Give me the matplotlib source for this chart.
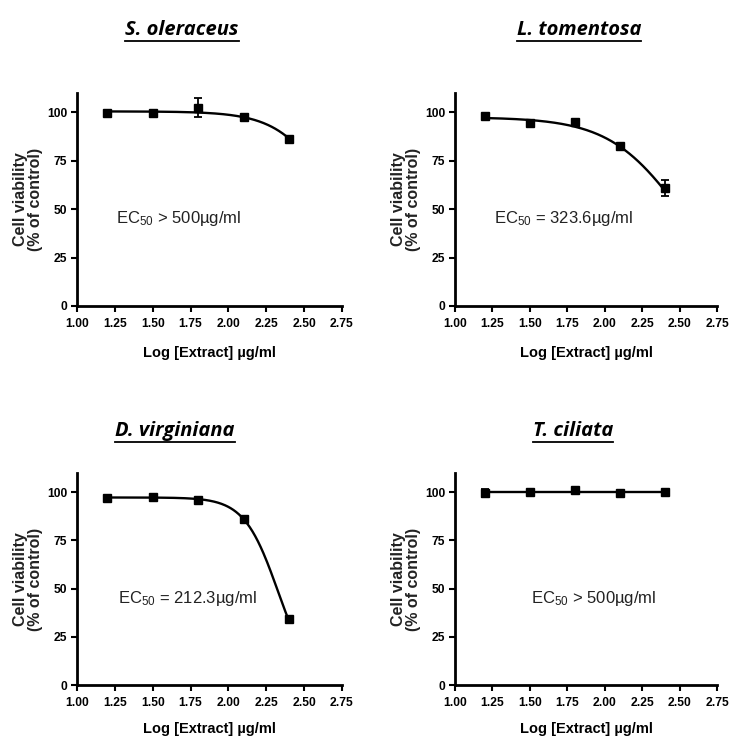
import numpy as np
import matplotlib
matplotlib.use("Agg")
import matplotlib.pyplot as plt
from matplotlib.lines import Line2D

plt.rcParams['font.family'] = ['Liberation Sans Narrow', 'Liberation Sans', 'DejaVu Sans']
plt.rcParams['mathtext.fontset'] = 'custom'
plt.rcParams['mathtext.rm'] = 'Liberation Sans'
plt.rcParams['mathtext.it'] = 'Liberation Sans:italic'
plt.rcParams['mathtext.bf'] = 'Liberation Sans:bold'

# ---- data ----
log_conc = [1.2, 1.5, 1.8, 2.1, 2.4]

species = ["S. oleraceus", "L. tomentosa", "D. virginiana", "T. ciliata"]

viab_oleraceus = [99.5, 99.5, 102.5, 97.5, 86.5]
err_oleraceus = [1.0, 1.0, 5.0, 1.0, 1.0]

viab_tomentosa = [98.0, 94.5, 95.0, 82.5, 61.0]
err_tomentosa = [1.0, 1.5, 1.0, 1.0, 4.0]

viab_virginiana = [97.0, 97.5, 96.0, 86.0, 34.0]
err_virginiana = [1.0, 1.0, 1.0, 1.0, 1.0]

viab_ciliata = [99.5, 100.0, 101.0, 99.5, 100.0]
err_ciliata = [2.0, 1.0, 1.0, 1.0, 1.0]

# fitted dose-response parameters: top, bottom, logEC50, hill
fit_oleraceus = (100.5, 0.0, 2.73, 2.4)
fit_tomentosa = (97.5, 0.0, np.log10(323.6), 1.8)
fit_virginiana = (97.3, 0.0, np.log10(212.3), 3.9)
fit_ciliata = (100.0, 0.0, 6.0, 3.0)

ec50_labels = [r"EC$_{50}$ > 500µg/ml", r"EC$_{50}$ = 323.6µg/ml",
               r"EC$_{50}$ = 212.3µg/ml", r"EC$_{50}$ > 500µg/ml"]
ec50_pos = [(1.26, 45), (1.26, 45), (1.27, 45), (1.51, 45)]

x_ticks = [1.00, 1.25, 1.50, 1.75, 2.00, 2.25, 2.50, 2.75]
y_ticks = [0, 25, 50, 75, 100]

viabs = [viab_oleraceus, viab_tomentosa, viab_virginiana, viab_ciliata]
errs = [err_oleraceus, err_tomentosa, err_virginiana, err_ciliata]
fits = [fit_oleraceus, fit_tomentosa, fit_virginiana, fit_ciliata]


def logistic(x, top, bottom, logec50, hill):
    return bottom + (top - bottom) / (1 + 10 ** ((x - logec50) * hill))


W, H = 733, 738
fig = plt.figure(figsize=(W / 100, H / 100), dpi=100)

# axes pixel boxes: left, right, top, bottom
boxes = [(77, 342, 93, 306), (455, 717, 93, 306),
         (77, 342, 473, 685), (455, 717, 473, 685)]
title_pos = [(182, 30), (579, 30), (175, 431), (573, 431)]
xlabel_pads = [11, 11, 9, 9]

for i in range(4):
    l, r, t, b = boxes[i]
    ax = fig.add_axes([l / W, 1 - b / H, (r - l) / W, (b - t) / H])
    xs = np.linspace(log_conc[0], log_conc[-1], 200)
    ax.plot(xs, logistic(xs, *fits[i]), color='black', lw=1.7, zorder=3)
    ax.errorbar(log_conc, viabs[i], yerr=errs[i], fmt='s', color='black',
                ms=6, capsize=3, elinewidth=1.3, capthick=1.3, zorder=4)
    ax.set_xlim(1.0, 2.75)
    ax.set_ylim(0, 110)
    ax.set_xticks(x_ticks)
    ax.set_xticklabels([f"{v:.2f}" for v in x_ticks])
    ax.set_yticks(y_ticks)
    for s in ['top', 'right']:
        ax.spines[s].set_visible(False)
    for s in ['left', 'bottom']:
        ax.spines[s].set_linewidth(2.0)
    ax.tick_params(axis='both', direction='out', length=4, width=1.5,
                   labelsize=8.7, pad=3, colors='black')
    ax.tick_params(axis='x', pad=5)
    for lab in ax.get_xticklabels() + ax.get_yticklabels():
        lab.set_fontweight('bold')
    ax.set_xlabel("Log [Extract] µg/ml", fontsize=10.5, fontweight='bold',
                  labelpad=xlabel_pads[i], family=['Liberation Sans'])
    ax.set_ylabel("Cell viability\n(% of control)", fontsize=11.5,
                  fontweight='bold', labelpad=3, linespacing=1.0,
                  family=['Liberation Sans'], color='#222222')
    ax.text(ec50_pos[i][0], ec50_pos[i][1], ec50_labels[i], fontsize=12,
            color='#222222', va='center', ha='left',
            family=['Liberation Sans'])
    tx, ty = title_pos[i]
    fig.text(tx / W, 1 - ty / H, species[i], ha='center', va='center',
             fontsize=14.5, fontweight='bold', fontstyle='italic',
             family=['Open Sans', 'Liberation Sans'])

fig.canvas.draw()
renderer = fig.canvas.get_renderer()
for tt in list(fig.texts):
    bb = tt.get_window_extent(renderer)
    y = bb.y0 - 1
    fig.add_artist(Line2D([bb.x0 / W, bb.x1 / W], [y / H, y / H],
                          transform=fig.transFigure, color='black', lw=1.3))

fig.savefig("out.png", dpi=100)
